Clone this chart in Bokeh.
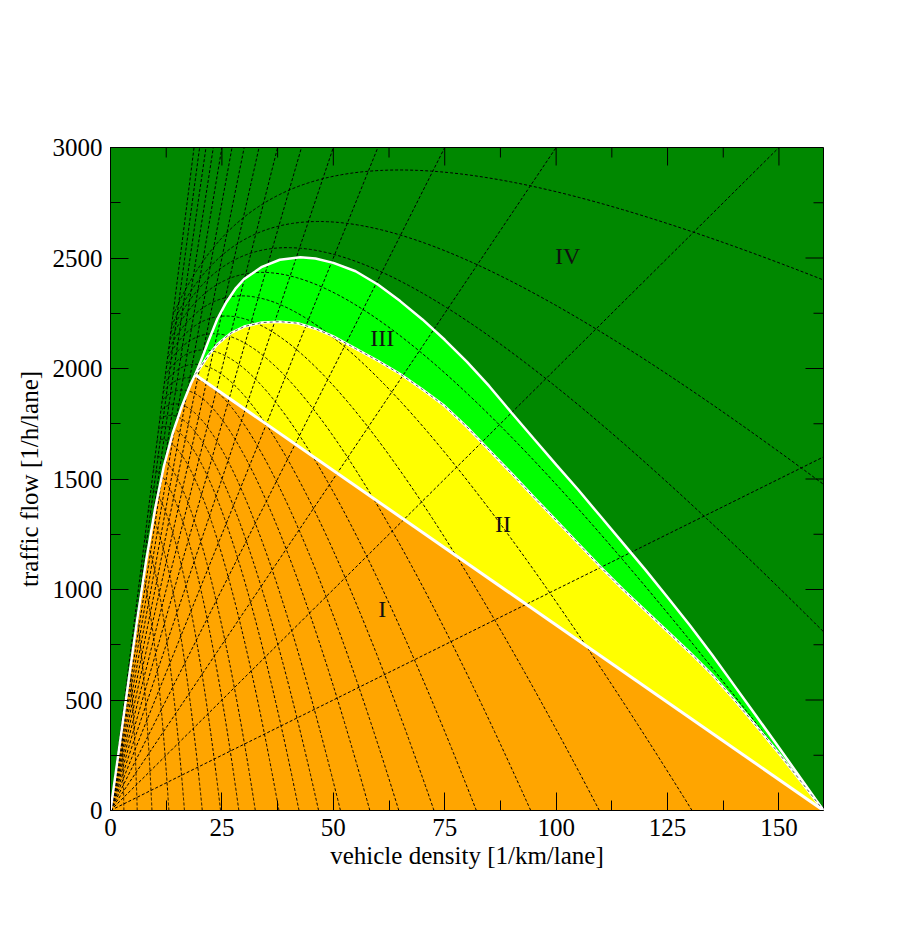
import numpy as np
from bokeh.plotting import figure
from bokeh.models import Range1d, SingleIntervalTicker, Label
from bokeh.embed import file_html
from bokeh.resources import INLINE

# ---------------- data ----------------
# constant-speed lines (km/h)
SPEEDS_KMH = [10, 20, 30, 40, 50, 60, 70, 80, 90, 100, 110, 120, 130, 140, 150, 160]
# jam densities (x-axis crossings, 1/km) of the hump-shaped curves
JAM_DENSITIES = [3.0, 6.0, 9.3, 13.1, 16.6, 20.6, 24.7, 28.8, 32.5, 37.8, 42.3, 46.7,
                 51.6, 58.2, 64.7, 72.6, 82.1, 94.3, 109.7, 130.5, 160.0, 199.0, 252.0, 411.0]
TIME_GAP_S = 0.85          # s
BRAKE_TERM = 0.0158        # s^2/m
V_MAX_KMH = 160.0

# region boundaries
OUTER_RHO = [0, 2, 4, 6, 8, 10, 12, 14, 16, 18, 19, 20, 22, 24, 26, 28, 30, 34, 38, 42.6,
             46, 50, 55, 60, 65, 70, 75, 80, 85, 90, 95, 100, 105, 110, 115, 120, 125,
             130, 135, 140, 145, 150, 155, 160]
OUTER_Q = [0, 290, 580, 865, 1130, 1365, 1560, 1710, 1828, 1930, 1972, 2020, 2125, 2225,
           2300, 2360, 2405, 2460, 2492, 2503, 2498, 2478, 2440, 2380, 2305, 2222, 2130,
           2030, 1920, 1800, 1682, 1565, 1450, 1330, 1210, 1090, 965, 838, 705, 565,
           425, 285, 143, 0]

YELLOW_RHO = [19.0, 20, 22, 24, 27, 30, 34, 38, 42, 46, 50, 55, 60, 65, 70, 75, 80, 85,
              90, 95, 100, 105, 110, 115, 120, 125, 130, 135, 140, 145, 150, 155, 160]
YELLOW_Q = [1972, 2000, 2060, 2110, 2160, 2190, 2208, 2212, 2205, 2180, 2145, 2090, 2035,
            1975, 1905, 1830, 1735, 1630, 1525, 1418, 1313, 1207, 1101, 1000, 905, 810,
            715, 615, 500, 380, 258, 130, 0]

ORANGE_RHO = [0, 2, 4, 6, 8, 10, 12, 14, 16, 18, 19, 160]
ORANGE_Q = [0, 290, 580, 865, 1130, 1365, 1560, 1710, 1828, 1930, 1972, 0]

LABELS = ["I", "II", "III", "IV"]
LABEL_RHO = [61.0, 88.1, 61.0, 102.6]
LABEL_Q = [913, 1297, 2137, 2511]

X_TICKS = [0, 25, 50, 75, 100, 125, 150]
Y_TICKS = [0, 500, 1000, 1500, 2000, 2500, 3000]
X_MAX, Y_MAX = 160, 3000

# ---------------- figure ----------------
FONT = "Liberation Serif"
FRAME_W, FRAME_H = 713, 663
p = figure(width=918, height=941, output_backend="svg", toolbar_location=None,
           x_range=Range1d(0, X_MAX), y_range=Range1d(0, Y_MAX),
           min_border_left=105, min_border_right=100, min_border_top=143,
           min_border_bottom=135, background_fill_color="#008800",
           border_fill_color="white", outline_line_color="black")
p.margin = (4, 0, 0, 5)
p.grid.visible = False

# filled regions
p.patch(OUTER_RHO, OUTER_Q, fill_color="#00ff00", line_color=None)
p.patch(YELLOW_RHO + [ORANGE_RHO[-2]], YELLOW_Q + [ORANGE_Q[-2]], fill_color="#ffff00", line_color=None)
p.patch(ORANGE_RHO, ORANGE_Q, fill_color="#ffa500", line_color=None)

# dashed grid: constant speed lines
xs, ys = [], []
for v in SPEEDS_KMH:
    r_end = min(X_MAX, Y_MAX / v) * 1.02
    xs.append([0, r_end])
    ys.append([0, v * r_end])
p.multi_line(xs, ys, line_color="black", line_width=1, line_dash="3 2")

# dashed grid: hump curves
v_ms = np.concatenate([np.linspace(0, 2, 60), np.linspace(2, V_MAX_KMH / 3.6, 400)[1:]])
hx, hy = [], []
for rc in JAM_DENSITIES:
    d = 1000.0 / rc
    rho = 1000.0 / (d + TIME_GAP_S * v_ms + BRAKE_TERM * v_ms ** 2)
    q = 3.6 * v_ms * rho
    hx.append(list(rho))
    hy.append(list(q))
p.multi_line(hx, hy, line_color="black", line_width=1, line_dash="3 2")

# white boundaries
p.line(OUTER_RHO, OUTER_Q, line_color="white", line_width=2.5)
p.line(YELLOW_RHO, YELLOW_Q, line_color="white", line_width=2.5)
p.line(YELLOW_RHO, YELLOW_Q, line_color="#555555", line_width=1, line_dash="3 3")
p.line(ORANGE_RHO[-2:], ORANGE_Q[-2:], line_color="white", line_width=3)

# region labels
for t, x, y in zip(LABELS, LABEL_RHO, LABEL_Q):
    p.add_layout(Label(x=x, y=y, text=t, text_font=FONT, text_font_size="24px",
                       text_align="center", text_baseline="middle", text_color="#111111"))

# axes
def style_axis(ax):
    ax.major_tick_in = 18
    ax.major_tick_out = 0
    ax.minor_tick_in = 10
    ax.minor_tick_out = 0
    ax.axis_line_color = "black"
    ax.major_tick_line_color = "black"
    ax.minor_tick_line_color = "black"
    ax.major_label_text_font = FONT
    ax.major_label_text_font_size = "25px"
    ax.major_label_text_color = "black"
    ax.axis_label_text_font = FONT
    ax.axis_label_text_font_size = "25px"
    ax.axis_label_text_font_style = "normal"
    ax.axis_label_text_color = "black"

xa = p.xaxis[0]
xa.ticker = SingleIntervalTicker(interval=25, num_minor_ticks=2)
xa.axis_label = "vehicle density [1/km/lane]"
style_axis(xa)
xa.major_label_standoff = 8
xa.axis_label_standoff = 3

ya = p.yaxis[0]
ya.ticker = SingleIntervalTicker(interval=500, num_minor_ticks=2)
ya.axis_label = "traffic flow [1/h/lane]"
style_axis(ya)
ya.major_label_standoff = 8
ya.axis_label_standoff = 7
ya.major_label_orientation = "horizontal"

# mirrored ticks on top and right frame edges
dy_major = 18 * Y_MAX / FRAME_H
dy_minor = 10 * Y_MAX / FRAME_H
dx_major = 18 * X_MAX / FRAME_W
dx_minor = 10 * X_MAX / FRAME_W
x_minor = [t + 12.5 for t in X_TICKS if t + 12.5 < X_MAX]
y_minor = [t + 250 for t in Y_TICKS if t + 250 < Y_MAX]
tx0 = X_TICKS + x_minor
ty1 = [Y_MAX - dy_major] * len(X_TICKS) + [Y_MAX - dy_minor] * len(x_minor)
p.segment(x0=tx0, y0=[Y_MAX] * len(tx0), x1=tx0, y1=ty1, line_color="black", line_width=1)
ry0 = Y_TICKS + y_minor
rx1 = [X_MAX - dx_major] * len(Y_TICKS) + [X_MAX - dx_minor] * len(y_minor)
p.segment(x0=[X_MAX] * len(ry0), y0=ry0, x1=rx1, y1=ry0, line_color="black", line_width=1)

html = file_html(p, INLINE)
html = html.replace("<body>", '<body style="margin:0;background:#ffffd4;">', 1)
open("out.html", "w").write(html)
